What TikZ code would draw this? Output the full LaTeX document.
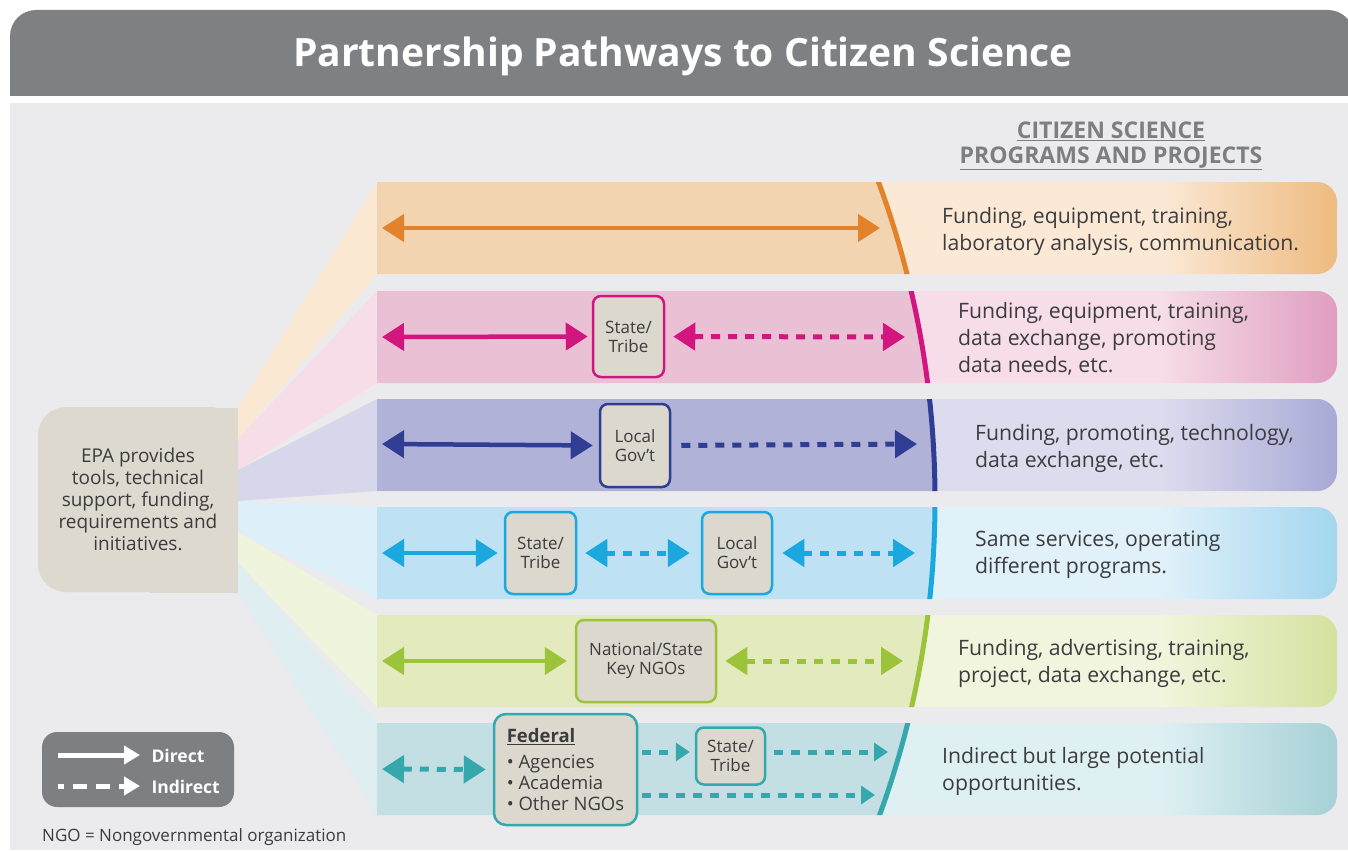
\documentclass[tikz, border = 0pt]{standalone}
\usepackage{fontspec}
\setmainfont{Open Sans}
\usepackage{tikz}
\usetikzlibrary{arrows.meta, calc}

\definecolor{titlegray}{HTML}{7F8084}
\definecolor{panel}{HTML}{EBEBED}
\definecolor{ink}{HTML}{3C3C3E}
\definecolor{headgray}{HTML}{7D7E82}
\definecolor{boxfill}{HTML}{DCD8CD}
\definecolor{epafill}{HTML}{DDD9CE}
\definecolor{legendgray}{HTML}{7E7F83}

\definecolor{orangeW}{HTML}{FBE8D3}
\definecolor{orangeD}{HTML}{F3D4B0}
\definecolor{orangeL}{HTML}{FBE9D6}
\definecolor{orangeE}{HTML}{EEBB80}
\definecolor{orangeN}{HTML}{E2832B}

\definecolor{pinkW}{HTML}{F6DDE8}
\definecolor{pinkD}{HTML}{EAC1D4}
\definecolor{pinkL}{HTML}{F6DDE9}
\definecolor{pinkE}{HTML}{E09EBF}
\definecolor{pinkN}{HTML}{D2157F}

\definecolor{indigoW}{HTML}{D7D7EC}
\definecolor{indigoD}{HTML}{B0B2D8}
\definecolor{indigoL}{HTML}{DCDCEF}
\definecolor{indigoE}{HTML}{A8A9D5}
\definecolor{indigoN}{HTML}{2F3E93}

\definecolor{cyanW}{HTML}{DDF0F9}
\definecolor{cyanD}{HTML}{BEE1F3}
\definecolor{cyanL}{HTML}{E1F1FA}
\definecolor{cyanE}{HTML}{A3D6EF}
\definecolor{cyanN}{HTML}{1AA8DF}

\definecolor{greenW}{HTML}{EFF4DD}
\definecolor{greenD}{HTML}{E3EABE}
\definecolor{greenL}{HTML}{F1F5DD}
\definecolor{greenE}{HTML}{D4E29F}
\definecolor{greenN}{HTML}{9BC43B}

\definecolor{tealW}{HTML}{DEEEF1}
\definecolor{tealD}{HTML}{C4DFE3}
\definecolor{tealL}{HTML}{DEF0F2}
\definecolor{tealE}{HTML}{A6D1D6}
\definecolor{tealN}{HTML}{34A8AD}

% one band: top y, wedge top y, wedge, dark part, light part, right end, line colour
\newcommand{\pathband}[7]{
    \fill[#3](238, #2) -- (377, #1) -- (377, #1 + 92) -- (238, #2 + 31) -- cycle;
    \begin{scope}
        \clip(377, #1) rectangle (1337, #1 + 92);
        \clip[rounded corners = 20pt](300, #1) rectangle (1337, #1 + 92);
        \fill[#5](377, #1) rectangle (1337, #1 + 92);
        \shade[left color = #5, right color = #6](1160, #1) rectangle (1337, #1 + 92);
        \fill[#4](16, 500) circle (919pt);
        \draw[#7, line width = 5pt](16, 500) circle (919pt);
    \end{scope}
}

\tikzset{
    direct/.style = {line width = 4.5pt, {Triangle[length = 22pt, width = 27pt]}-{Triangle[length = 22pt, width = 27pt]}},
    indirect/.style = {line width = 5pt, dash pattern = on 9pt off 8pt, {Triangle[length = 22pt, width = 27pt]}-{Triangle[length = 22pt, width = 27pt]}},
    oneway/.style = {line width = 5pt, dash pattern = on 9pt off 8pt, -{Triangle[length = 22pt, width = 27pt]}},
    smallway/.style = {line width = 5pt, dash pattern = on 9pt off 8pt, -{Triangle[length = 14pt, width = 18pt]}},
    actor/.style = {draw = #1, fill = boxfill, line width = 2.5pt, rounded corners = 8pt, align = center, inner sep = 0pt, text = ink, font = \fontsize{17}{19}\selectfont},
    service/.style = {anchor = west, align = left, text = ink, inner sep = 0pt, font = \fontsize{21.2}{27}\selectfont},
}

\begin{document}
\begin{tikzpicture}[x = 1pt, y = -1pt]
            \useasboundingbox (0, 0) rectangle (1348, 851);
            \fill[white](0, 0) rectangle (1348, 851);

            % title bar and panel
            \begin{scope}
                \clip(0, 0) rectangle (1348, 95);
                \fill[titlegray, rounded corners = 26pt](10, 10) rectangle (1354, 150);
            \end{scope}
            \node[white, font = \fontsize{39}{44}\selectfont\bfseries] (title) at (683, 56) {Partnership Pathways to Citizen Science};
            \fill[panel](10, 103) rectangle (1348, 850);

            \node[headgray, align = center, font = \fontsize{23}{25}\selectfont\bfseries] (heading) at (1111, 146) {\underline{CITIZEN SCIENCE}\\\underline{PROGRAMS AND PROJECTS}};

            % bands
            \pathband{182}{408}{orangeW}{orangeD}{orangeL}{orangeE}{orangeN}
            \pathband{291}{439}{pinkW}{pinkD}{pinkL}{pinkE}{pinkN}
            \pathband{399}{470}{indigoW}{indigoD}{indigoL}{indigoE}{indigoN}
            \pathband{507}{501}{cyanW}{cyanD}{cyanL}{cyanE}{cyanN}
            \pathband{615}{532}{greenW}{greenD}{greenL}{greenE}{greenN}
            \pathband{723}{562}{tealW}{tealD}{tealL}{tealE}{tealN}

            % EPA box
            \fill[epafill](150, 408) rectangle (238, 593);
            \node[fill = epafill, rounded corners = 28pt, minimum width = 200pt, minimum height = 185pt, align = center, text = ink, font = \fontsize{19}{22}\selectfont] (epa) at (138, 499.5) {EPA provides\\tools, technical\\support, funding,\\requirements and\\initiatives.};

            % row 1
            \coordinate (o1) at (382, 228);
            \coordinate (o2) at (880, 228);
            \draw[orangeN, direct](o1) -- (o2);
            \node[service] (s1) at (942, 231) {Funding, equipment, training,\\laboratory analysis, communication.};

            % row 2
            \node[actor = pinkN, minimum width = 71pt, minimum height = 81pt] (pst) at (628.5, 336.5) {State/\\Tribe};
            \coordinate (p1) at (382, 337);
            \coordinate (p2) at (905, 337);
            \draw[pinkN, direct, shorten > = 4pt](p1) -- (pst.west);
            \draw[pinkN, indirect, shorten < = 8pt](pst.east) -- (p2);
            \node[service] (s2) at (958, 339) {Funding, equipment, training,\\data exchange, promoting\\data needs, etc.};

            % row 3
            \node[actor = indigoN, minimum width = 70pt, minimum height = 83pt] (blg) at (635, 445.5) {Local\\Gov't};
            \coordinate (b1) at (382, 444);
            \coordinate (b2) at (917, 444);
            \draw[indigoN, direct, shorten > = 6pt](b1) -- (blg.west);
            \draw[indigoN, oneway, shorten < = 10pt](blg.east) -- (b2);
            \node[service] (s3) at (975, 448) {Funding, promoting, technology,\\data exchange, etc.};

            % row 4
            \node[actor = cyanN, minimum width = 71pt, minimum height = 82pt] (cst) at (540.5, 553) {State/\\Tribe};
            \node[actor = cyanN, minimum width = 70pt, minimum height = 82pt] (clg) at (737, 553) {Local\\Gov't};
            \coordinate (c1) at (382, 553);
            \coordinate (c2) at (915, 553);
            \draw[cyanN, direct, shorten > = 6pt](c1) -- (cst.west);
            \draw[cyanN, indirect, shorten < = 8pt, shorten > = 11pt](cst.east) -- (clg.west);
            \draw[cyanN, indirect, shorten < = 9pt](clg.east) -- (c2);
            \node[service] (s4) at (975, 555) {Same services, operating\\different programs.};

            % row 5
            \node[actor = greenN, minimum width = 140pt, minimum height = 82pt] (gngo) at (646, 661) {National/State\\Key NGOs};
            \coordinate (g1) at (382, 661);
            \coordinate (g2) at (903, 661);
            \draw[greenN, direct, shorten > = 8pt](g1) -- (gngo.west);
            \draw[greenN, indirect, shorten < = 8pt](gngo.east) -- (g2);
            \node[service] (s5) at (958, 663) {Funding, advertising, training,\\project, data exchange, etc.};

            % row 6
            \node[actor = tealN, minimum width = 143pt, minimum height = 111pt, align = left, rounded corners = 12pt, font = \fontsize{18.5}{21}\selectfont] (tfed) at (565.5, 769.5) {\underline{\bfseries Federal}\\[5pt]• Agencies\\• Academia\\• Other NGOs};
            \node[actor = tealN, minimum width = 69pt, minimum height = 57pt] (tst) at (730.5, 756) {State/\\Tribe};
            \coordinate (t1) at (382, 769);
            \coordinate (t2) at (888, 752);
            \coordinate (t3) at (875, 795);
            \draw[tealN, indirect, shorten > = 7pt](t1) -- (tfed.west);
            \draw[tealN, smallway, shorten < = 4pt, shorten > = 5pt](tfed.east |- t2) -- (tst.west |- t2);
            \draw[tealN, smallway, shorten < = 8pt](tst.east |- t2) -- (t2);
            \draw[tealN, smallway, shorten < = 4pt](tfed.east |- t3) -- (t3);
            \node[service] (s6) at (942, 771) {Indirect but large potential\\opportunities.};

            % legend
            \node[fill = legendgray, rounded corners = 15pt, minimum width = 192pt, minimum height = 75pt] (legend) at (138, 769.5) {};
            \coordinate (d1) at (58, 755);
            \coordinate (d2) at (140, 755);
            \coordinate (i1) at (58, 786);
            \coordinate (i2) at (140, 786);
            \draw[white, line width = 5pt, -{Triangle[length = 16pt, width = 18pt]}](d1) -- (d2);
            \draw[white, line width = 5pt, dash pattern = on 6pt off 9pt on 14pt off 9pt on 14pt off 9pt, -{Triangle[length = 16pt, width = 18pt]}](i1) -- (i2);
            \node[white, anchor = west, font = \fontsize{17.5}{22}\selectfont\bfseries] (ldirect) at (148, 756) {Direct};
            \node[white, anchor = west, font = \fontsize{17.5}{22}\selectfont\bfseries] (lindirect) at (148, 787) {Indirect};

            \node[anchor = west, inner sep = 0pt, text = ink, font = \fontsize{17}{20}\selectfont] (note) at (42, 837) {NGO = Nongovernmental organization};
        \end{tikzpicture}
\end{document}
